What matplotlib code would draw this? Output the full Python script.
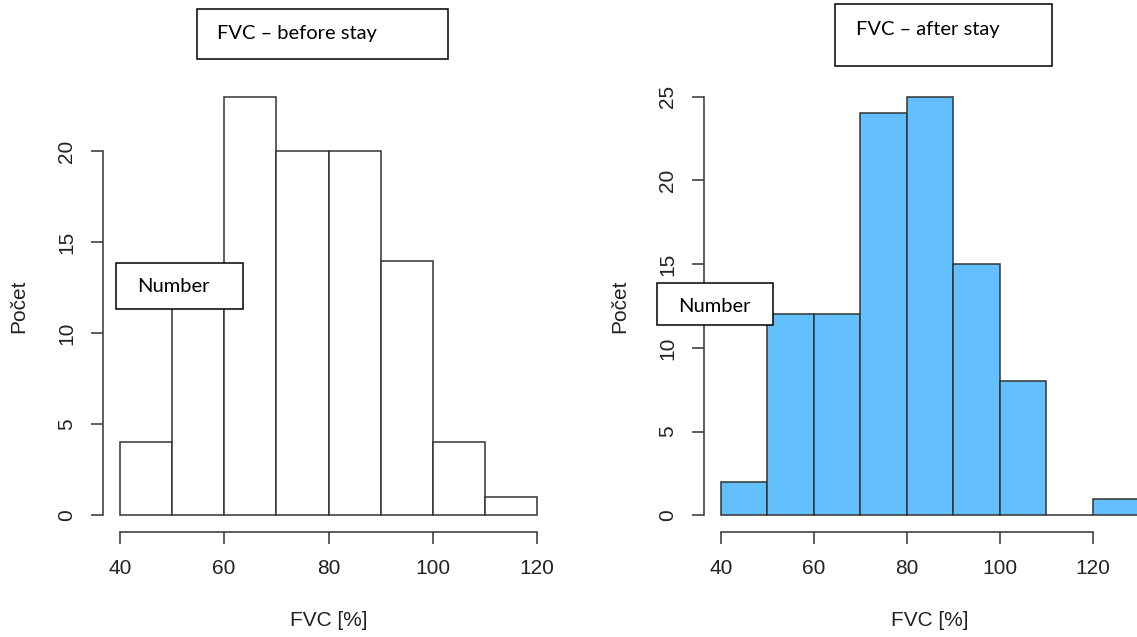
import matplotlib
matplotlib.use("Agg")
import matplotlib.pyplot as plt
from matplotlib.patches import Rectangle

# histogram bins (FVC %) and counts
bins_before = [40, 50, 60, 70, 80, 90, 100, 110, 120]
counts_before = [4, 13, 23, 20, 20, 14, 4, 1]

bins_after = [40, 50, 60, 70, 80, 90, 100, 110, 120, 130]
counts_after = [2, 12, 12, 24, 25, 15, 8, 0, 1]

xticks = [40, 60, 80, 100, 120]
yticks_before = [0, 5, 10, 15, 20]
yticks_after = [0, 5, 10, 15, 20, 25]

W, H = 1137, 637
plt.rcParams['font.family'] = ['Liberation Sans', 'DejaVu Sans']
TXT = '#222222'
LINE = '#333333'


def r_hist(ax, bins, counts, color, yticks):
    lefts = bins[:-1]
    widths = [b - a for a, b in zip(bins[:-1], bins[1:])]
    ax.bar(lefts, counts, width=widths, align='edge', color=color,
           edgecolor=LINE, linewidth=1.1)
    # R style 4% padding around the data range
    x0, x1 = bins[0], bins[-1]
    dx = (x1 - x0) * 0.04
    ax.set_xlim(x0 - dx, x1 + dx)
    ymax = max(counts)
    ax.set_ylim(-ymax * 0.04, ymax * 1.04)
    ax.set_xticks(xticks)
    ax.set_yticks(yticks)
    for s in ['top', 'right']:
        ax.spines[s].set_visible(False)
    ax.spines['bottom'].set_bounds(xticks[0], xticks[-1])
    ax.spines['left'].set_bounds(yticks[0], yticks[-1])
    for s in ['bottom', 'left']:
        ax.spines[s].set_color(LINE)
        ax.spines[s].set_linewidth(1.1)
    ax.tick_params(direction='out', length=8.5, width=1.1, color=LINE,
                   labelsize=15, labelcolor=TXT, pad=11)
    for lab in ax.get_yticklabels():
        lab.set_rotation(90)
        lab.set_va('center')
    ax.set_xlabel('FVC [%]', fontsize=15, color=TXT, va='center')
    ax.set_ylabel('Počet', fontsize=15, color=TXT, va='center')
    ax.patch.set_visible(False)


def box(fig, x0, y0, x1, y1, text, tx, ty):
    fig.patches.append(Rectangle((x0 / W, 1 - y1 / H), (x1 - x0) / W, (y1 - y0) / H,
                                 transform=fig.transFigure, facecolor='white',
                                 edgecolor='black', linewidth=1.1, zorder=5))
    fig.text(tx / W, 1 - ty / H, text, fontsize=14.5, family=['Lato', 'DejaVu Sans'],
             color='black', ha='left', va='center', zorder=6)


fig = plt.figure(figsize=(W / 100, H / 100), dpi=100)

# axes placed in pixel terms: plot region y 80..532
bot = (H - 532) / H
hgt = (532 - 80) / H
ax1 = fig.add_axes([103 / W, bot, (554 - 103) / W, hgt])
ax2 = fig.add_axes([704 / W, bot, (1156 - 704) / W, hgt])

r_hist(ax1, bins_before, counts_before, 'white', yticks_before)
r_hist(ax2, bins_after, counts_after, '#63BFFE', yticks_after)

ax1.xaxis.set_label_coords(0.5, (532 - 620) / 452)
ax1.yaxis.set_label_coords((19 - 103) / 451, 0.5)
ax2.xaxis.set_label_coords(0.5, (532 - 620) / 452)
ax2.yaxis.set_label_coords((620 - 704) / 452, 0.5)

box(fig, 197, 9, 448, 59, 'FVC – before stay', 217, 34)
box(fig, 835, 4, 1052, 66, 'FVC – after stay', 856, 29)
box(fig, 116, 263, 243, 309, 'Number', 137, 287)
box(fig, 657, 283, 773, 325, 'Number', 678, 306)

fig.savefig('out.png', dpi=100)
